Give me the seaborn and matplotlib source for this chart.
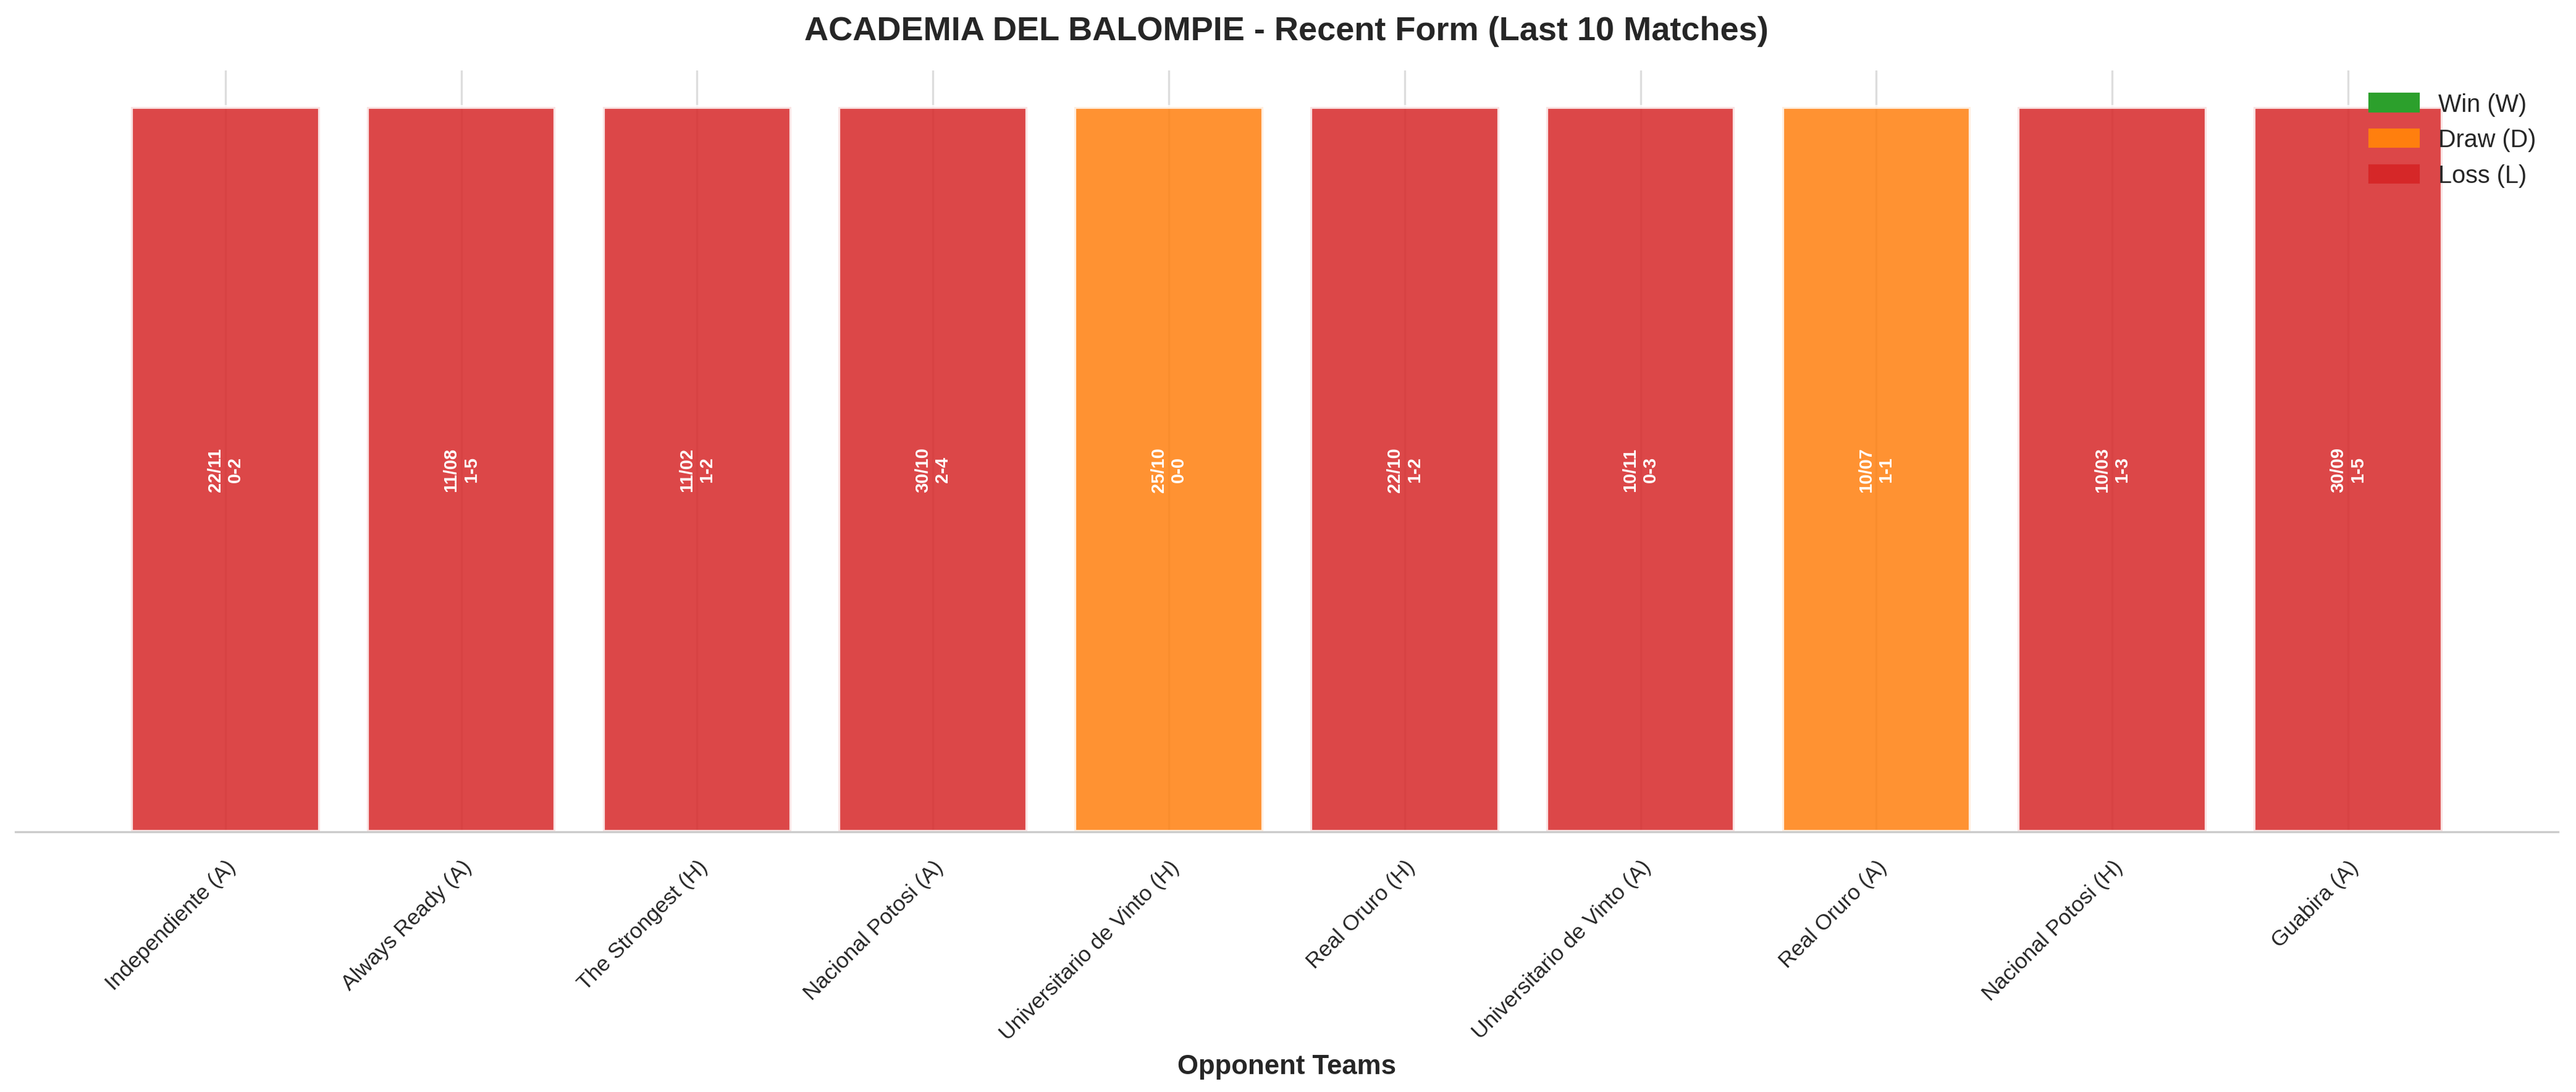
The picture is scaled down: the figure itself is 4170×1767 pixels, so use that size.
import seaborn as sns
import matplotlib.pyplot as plt
from matplotlib.patches import Patch

opponents = ["Independiente (A)", "Always Ready (A)", "The Strongest (H)", "Nacional Potosi (A)",
             "Universitario de Vinto (H)", "Real Oruro (H)", "Universitario de Vinto (A)",
             "Real Oruro (A)", "Nacional Potosi (H)", "Guabira (A)"]
results = ["L", "L", "L", "L", "D", "L", "L", "D", "L", "L"]
dates = ["22/11", "11/08", "11/02", "30/10", "25/10", "22/10", "10/11", "10/07", "10/03", "30/09"]
scores = ["0-2", "1-5", "1-2", "2-4", "0-0", "1-2", "0-3", "1-1", "1-3", "1-5"]
heights = [1] * len(opponents)

colors = {"W": "#2ca02c", "D": "#ff7f0e", "L": "#d62728"}

sns.set_theme(style="whitegrid")
plt.rcParams['font.family'] = ['Liberation Sans', 'DejaVu Sans']

fig, ax = plt.subplots(figsize=(13.9, 5.893), dpi=300)
plt.subplots_adjust(left=0.006, right=0.993, bottom=0.238, top=0.935)

sns.barplot(x=opponents, y=heights, hue=results, palette=colors, dodge=False, saturation=1,
            alpha=0.85, edgecolor="white", linewidth=1.5, legend=False, ax=ax, zorder=2)
ax.set_axisbelow(True)
ax.xaxis.grid(True, color="#dddddd", linewidth=0.8)
ax.yaxis.grid(False)

for i in range(len(opponents)):
    ax.text(i, 0.5, f"{dates[i]}\n{scores[i]}", rotation=90, ha="center", va="center",
            color="white", fontsize=7, fontweight="bold", zorder=3)

ax.set_title("ACADEMIA DEL BALOMPIE - Recent Form (Last 10 Matches)", fontsize=13,
             fontweight="bold", pad=12)
ax.set_xlabel("Opponent Teams", fontsize=10.5, fontweight="bold")
ax.set_ylabel("")
ax.set_yticks([])
ax.set_ylim(0, 1.05)
ax.set_xlim(-0.89, 9.89)
plt.setp(ax.get_xticklabels(), rotation=45, ha="right", rotation_mode="anchor", fontsize=8.5)
for s in ["top", "right", "left"]:
    ax.spines[s].set_visible(False)
ax.spines["bottom"].set_color("#cccccc")
ax.spines["bottom"].set_linewidth(0.8)

handles = [Patch(color=colors["W"], label="Win (W)"),
           Patch(color=colors["D"], label="Draw (D)"),
           Patch(color=colors["L"], label="Loss (L)")]
ax.legend(handles=handles, loc="upper right", frameon=False, fontsize=9.5)

fig.savefig("out.png", dpi=300)
